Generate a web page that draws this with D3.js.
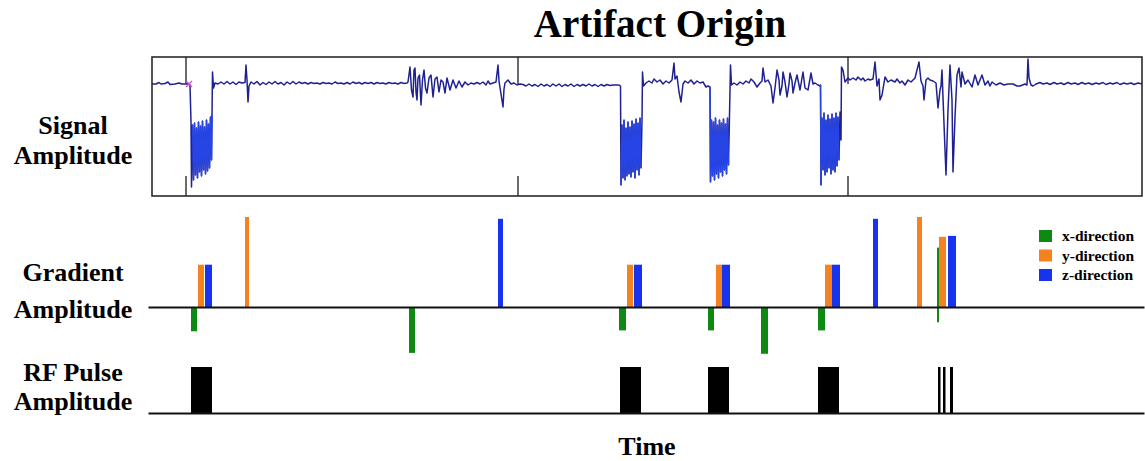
<!DOCTYPE html>
<html>
<head>
<meta charset="utf-8">
<script src="https://cdn.jsdelivr.net/npm/d3@7"></script>
<style>
  body { margin: 0; background: #fff; }
  svg { display: block; }
  text { font-family: "Liberation Serif", "Times New Roman", serif; font-weight: bold; fill: #000; }
</style>
</head>
<body>
<svg id="chart" width="1145" height="461"></svg>
<script>
// ---- Data -------------------------------------------------------------
// Recorded signal: [time (ms), amplitude (µV)]
const signalTrace = [
  [0,0],[4,0],[7,1.5],[9,0],[13,0.5],[16,2],[18,-0.5],[23,0],[27,1],[30,0],[34,0],[37,0],
  [38,-1],[39,-38],[39.5,-103],[40.5,-41],[41.5,-96],[42.5,-39],[43.5,-91],[44.5,-44],[45.5,-94],
  [46.5,-38],[47.5,-88],[48.5,-42],[49.5,-92],[50.5,-37],[51.5,-86],[52.5,-43],[53.5,-90],[54.5,-36],
  [55.5,-87],[56.5,-40],[57.5,-84],[58.5,-33],[59.5,-76],[60,-31],[60.5,12],[61.5,-4],[63,1],
  [66,0],[69,2],[72,0],[75,2.5],[78,0],[81,2],[84,-0.5],[87,2],[90,1],[93,1.5],[94,19],[95,4],[96,-18],
  [97,-2],[99,2],[102,0],[105,2.5],[108,-1],[111,1.5],[114,-0.5],[117,2],[120,0],[123,2.5],[126,0],
  [129,1.5],[132,-1],[135,2],[138,0],[141,2.5],[144,0],[147,2],[150,0.5],[153,1.5],[156,0],[159,1.5],
  [162,0.5],[165,1],[168,0],[171,1.5],[174,0.5],[177,1],[180,0],[183,2],[186,0.5],[189,1],[192,0],
  [195,1.5],[198,0],[201,2],[204,0.5],[207,1.5],[210,0],[213,1.5],[216,0.5],[219,1.5],[222,0],[225,1.5],
  [228,0.5],[231,1],[234,0],[237,1.5],[240,0.5],[243,1],[246,0],[249,1.5],[252,0.5],[255,1],
  [256,2],[258,17],[259.5,-6],[261,-13],[262,14],[263,16],[264,-8],[265,-16],[266,6],[267.5,9],[269,-21],
  [270.5,4],[272,14],[273.5,-4],[275,-9],[277,6],[279,9],[281,-13],[283,5],[285,7],[287,-8],[289,4],
  [291,2],[293,-9],[295,6],[298,-6],[301,4],[304,-4],[307,3],[310,-3],[313,2],[316,-1],[319,1],
  [322,0],[325,1.5],[328,0],[331,2],[334,-1],[336,3],[338,0],[341,1],[344,2],[346,19],[347,3],[349,-10],
  [351,-23],[352,-5],[353,1],[356,4],[359,0],[362,1],[365,-1],[368,0],
  [371,-0.5],[374,-2],[377,0],[380,-2],[383,-0.5],[386,-2.5],[389,0],[392,-2],[395,-0.5],[398,-2.5],
  [401,0],[404,-2],[407,0],[410,-2.5],[413,-0.5],[416,-2],[419,0],[422,-2.5],[425,-0.5],[428,-2],
  [431,-0.5],[434,-2],[437,0],[440,-2],[443,-0.5],[446,-2.5],[449,-0.5],[452,-2],[455,-0.5],[458,-1.5],
  [461,-1],[464,-1],[467,-1],
  [468.5,-2],[469,-101],[470,-41],[471,-94],[472,-36],[473,-96],[474,-44],[475,-92],[476,-38],[477,-90],
  [478,-43],[479,-93],[480,-37],[481,-88],[482,-40],[483,-94],[484,-35],[485,-86],[486,-39],[487,-91],
  [488,-34],[489,-84],[490,-36],[490.5,12],[491.5,-2],
  [494,1],[497,3],[500,1],[502,5],[505,2],[508,4],[511,0],[514,3],[517,1],[520,4],[522,21],[523,5],
  [525,8],[527,-8],[529,-18],[531,0],[533,3],[536,1],[539,4],[542,0],[545,3],[548,1],[551,2],[554,-3],[556,-2],
  [558,-3],[558.5,-98],[559.5,-36],[560.5,-92],[561.5,-38],[562.5,-96],[563.5,-34],[564.5,-90],[565.5,-41],
  [566.5,-94],[567.5,-36],[568.5,-88],[569.5,-39],[570.5,-92],[571.5,-35],[572.5,-86],[573.5,-40],
  [574.5,-90],[575.5,-34],[576.5,-81],[577.5,-31],[578.5,19],[579.5,-1],
  [582,1],[585,-1],[588,2],[591,0],[594,3],[597,1],[599,5],[602,2],[605,-3],[608,1],[610,3],[611,16],
  [613,2],[616,4],[619,-2],[621,-19],[623,-4],[625,14],[627,4],[628,-11],[630,-2],[631,12],[633,2],
  [635,-13],[637,0],[638,11],[640,3],[641,-9],[643,1],[645,9],[647,-1],[648,-6],[651,12],[653,-4],
  [656,-6],[659,11],[661,0],[663,1],[666,-1],[668,-2],
  [668.5,-1],[669,-101],[670,-34],[671,-86],[672,-29],[673,-91],[674,-36],[675,-88],[676,-31],[677,-84],
  [678,-35],[679,-90],[680,-30],[681,-86],[682,-34],[683,-88],[684,-29],[685,-82],[686,-33],[687,-76],
  [688,-28],[689,-56],[689.5,17],[691,14],[693,2],
  [696,6],[698,4],[701,6],[704,4],[706,7],[709,4],[711,6],[713,3],[716,5],[718,4],[721,5],[723,22],
  [725,-2],[727,5],[728,-16],[730,-11],[733,7],[736,2],[739,4],[743,2],[745,5],[748,1],[750,3],[753,-1],
  [756,4],[759,2],[763,6],[767,22],[769,3],[771,-2],[772,-16],[774,4],[776,6],[778,4],[781,3],[784,1],
  [786,-24],[788,-6],[789,-2],[790,14],[792,-40],[794,-91],[796,-26],[798,19],[800,-16],[801,-88],
  [803,-33],[805,9],[807,16],[809,-3],[810,12],[813,0],[816,4],[820,-3],[823,9],[826,-1],[830,9],
  [833,-1],[836,3],[838,-2],[840,2],[844,-1],[848,1],[852,-1],[856,0],[861,0],[865,-2],[868,-2],
  [873,0],[875,-1],[876,25],[877,6],[879,-1],[881,-2],
  [884,0],[888,1.5],[891,0],[895,1],[898,-0.5],[902,1.5],[905,0],[909,1],[912,-0.5],[916,1.5],[919,0],
  [923,1],[926,-0.5],[930,1.5],[933,0],[937,1],[940,-0.5],[944,1],[947,0],[951,1.5],[954,-0.5],[958,1],
  [961,0],[965,1.5],[968,-0.5],[972,1],[975,0],[979,1],[982,-0.5],[986,1],[990,0]
];

// Scanner trigger times (ms) and the first detected artifact onset
const triggerTimes = [34, 366, 696];
const onsetMarker = [37, 0];

// Gradient lobes per axis: start (ms), duration (ms), amplitude (normalised)
const xDirStart = [39, 257, 467, 556, 609, 666, 785, 785];
const xDirDur   = [6, 6, 7, 6, 7, 7, 2, 2];
const xDirAmp   = [-0.27, -0.51, -0.26, -0.26, -0.52, -0.26, -0.17, 0.66];

const yDirStart = [46, 93, 475, 564, 673, 765, 787];
const yDirDur   = [6, 4, 6, 6, 7, 5, 7];
const yDirAmp   = [0.47, 1.0, 0.47, 0.47, 0.47, 1.0, 0.78];

const zDirStart = [53, 346, 482, 570, 680, 721, 796];
const zDirDur   = [7, 5, 8, 8, 8, 5, 8];
const zDirAmp   = [0.47, 0.98, 0.47, 0.47, 0.47, 0.98, 0.79];

const gradientNames  = ["x-direction", "y-direction", "z-direction"];
const gradientColors = ["#0e8a14", "#f5821f", "#1733ee"];

// RF pulses: start (ms), duration (ms), amplitude (normalised)
const rfStart = [39, 468, 556, 666, 786, 791, 798];
const rfDur   = [21, 21, 21, 21, 2.5, 2.5, 3];
const rfAmp   = [1, 1, 1, 1, 1, 1, 1];

const rowLabels = [["Signal", "Amplitude"], ["Gradient", "Amplitude"], ["RF Pulse", "Amplitude"]];

// ---- Layout & scales -------------------------------------------------
const svg = d3.select("#chart");

const x  = d3.scaleLinear().domain([-4, 992]).range([148, 1144]);
const sy = d3.scaleLinear().domain([-112, 27]).range([196, 57]);
const gy = d3.scaleLinear().domain([-1, 1]).range([397, 217]);
const ry = d3.scaleLinear().domain([0, 1]).range([413, 367]);

// ---- Title -----------------------------------------------------------
svg.append("text")
  .attr("x", 660).attr("y", 37)
  .attr("text-anchor", "middle")
  .style("font-size", "39px")
  .text("Artifact Origin");

// ---- Row labels ------------------------------------------------------
const labelY = [[134, 164], [281, 318], [381, 410]];
rowLabels.forEach((lines, i) => {
  const t = svg.append("text")
    .attr("text-anchor", "middle")
    .style("font-size", "26px");
  lines.forEach((s, j) => {
    t.append("tspan").attr("x", 73).attr("y", labelY[i][j]).text(s);
  });
});

svg.append("text")
  .attr("x", 647).attr("y", 455)
  .attr("text-anchor", "middle")
  .style("font-size", "26px")
  .text("Time");

// ---- Signal panel ----------------------------------------------------
const sig = svg.append("g");

// trigger markers (top & bottom segments)
triggerTimes.forEach(t => {
  sig.append("line")
    .attr("x1", x(t)).attr("x2", x(t))
    .attr("y1", sy(27)).attr("y2", sy(0))
    .attr("stroke", "#3a3a3a").attr("stroke-width", 1.5);
  sig.append("line")
    .attr("x1", x(t)).attr("x2", x(t))
    .attr("y1", sy(-92)).attr("y2", sy(-112))
    .attr("stroke", "#3a3a3a").attr("stroke-width", 1.5);
});

const line = d3.line().x(d => x(d[0])).y(d => sy(d[1]));

sig.append("path")
  .datum(signalTrace)
  .attr("d", line)
  .attr("fill", "none")
  .attr("stroke", "#1f2190")
  .attr("stroke-width", 1.5)
  .attr("stroke-linejoin", "round");

// brighter rendering of the trace during the long RF pulses
rfStart.forEach((s, i) => {
  if (rfDur[i] < 10) return;
  const seg = signalTrace.filter(d => d[0] >= s + 1 && d[0] <= s + rfDur[i]);
  sig.append("path")
    .datum(seg)
    .attr("d", line)
    .attr("fill", "none")
    .attr("stroke", "#2645e4")
    .attr("stroke-width", 1.4);
});

// onset marker
const mk = sig.append("g")
  .attr("transform", `translate(${x(onsetMarker[0])},${sy(onsetMarker[1])})`)
  .attr("stroke", "#d24bd2").attr("stroke-width", 1.2);
mk.append("line").attr("x1", -3).attr("y1", -3).attr("x2", 3).attr("y2", 3);
mk.append("line").attr("x1", -3).attr("y1", 3).attr("x2", 3).attr("y2", -3);

// frame
sig.append("rect")
  .attr("x", x(0)).attr("y", sy(27))
  .attr("width", x(990) - x(0)).attr("height", sy(-112) - sy(27))
  .attr("fill", "none")
  .attr("stroke", "#2a2a2a").attr("stroke-width", 1.6);

// ---- Gradient panel --------------------------------------------------
const grad = svg.append("g");
const series = [
  { start: xDirStart, dur: xDirDur, amp: xDirAmp },
  { start: yDirStart, dur: yDirDur, amp: yDirAmp },
  { start: zDirStart, dur: zDirDur, amp: zDirAmp }
];
series.forEach((s, k) => {
  const rows = s.start.map((t, i) => ({ t, dur: s.dur[i], amp: s.amp[i] }));
  grad.selectAll(null).data(rows).join("rect")
    .attr("x", d => x(d.t))
    .attr("width", d => x(d.t + d.dur) - x(d.t))
    .attr("y", d => gy(Math.max(0, d.amp)))
    .attr("height", d => Math.abs(gy(d.amp) - gy(0)))
    .attr("fill", gradientColors[k]);
});

const gAxis = grad.append("g")
  .attr("transform", `translate(0,${gy(0)})`)
  .call(d3.axisBottom(x).tickValues([]).tickSizeOuter(0));
gAxis.select(".domain").attr("stroke", "#111").attr("stroke-width", 2);

// legend
const leg = grad.append("g");
gradientNames.forEach((name, i) => {
  leg.append("rect")
    .attr("x", 1039).attr("y", 230 + i * 19.5)
    .attr("width", 13).attr("height", 12)
    .attr("fill", gradientColors[i]);
  leg.append("text")
    .attr("x", 1062).attr("y", 241 + i * 19.5)
    .style("font-size", "15.5px")
    .text(name);
});

// ---- RF panel --------------------------------------------------------
const rf = svg.append("g");
const rfRows = rfStart.map((t, i) => ({ t, dur: rfDur[i], amp: rfAmp[i] }));
rf.selectAll(null).data(rfRows).join("rect")
  .attr("x", d => x(d.t))
  .attr("width", d => x(d.t + d.dur) - x(d.t))
  .attr("y", d => ry(d.amp))
  .attr("height", d => ry(0) - ry(d.amp))
  .attr("fill", "#000");

const rAxis = rf.append("g")
  .attr("transform", `translate(0,${ry(0)})`)
  .call(d3.axisBottom(x).tickValues([]).tickSizeOuter(0));
rAxis.select(".domain").attr("stroke", "#111").attr("stroke-width", 2);
</script>
</body>
</html>
